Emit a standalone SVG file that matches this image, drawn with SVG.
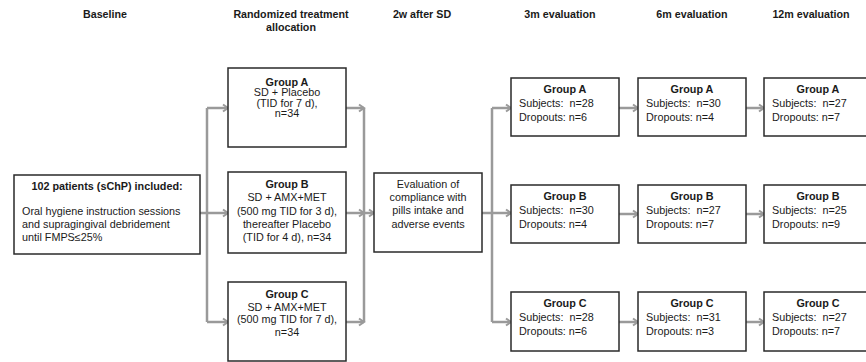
<svg xmlns="http://www.w3.org/2000/svg" width="866" height="362" viewBox="0 0 866 362">
<style>
text{font-family:"Liberation Sans",Arial,sans-serif;fill:#1a1a1a}
.h{font-size:10.7px;font-weight:bold;text-anchor:middle}
.t{font-size:10.8px}
.c{text-anchor:middle}
.b{font-weight:bold}
.box{fill:#fff;stroke:#2a2a2a;stroke-width:1.5}
.ln{fill:none;stroke:#9a9a9a;stroke-width:2.5}
.ar{fill:none;stroke:#9a9a9a;stroke-width:2.5;marker-end:url(#ah)}
</style>
<defs>
<marker id="ah" markerUnits="userSpaceOnUse" markerWidth="10" markerHeight="10" refX="8" refY="5" orient="auto">
<path d="M3,1.5 L8,5 L3,8.5" fill="none" stroke="#9a9a9a" stroke-width="2"/>
</marker>
</defs>
<rect width="866" height="362" fill="#fff"/>
<g id="headers">
<text class="h" x="105" y="18">Baseline</text>
<text class="h" x="291" y="18">Randomized treatment</text>
<text class="h" x="291" y="31">allocation</text>
<text class="h" x="422" y="18">2w after SD</text>
<text class="h" x="560" y="18">3m evaluation</text>
<text class="h" x="692" y="18">6m evaluation</text>
<text class="h" x="811" y="18">12m evaluation</text>
</g>
<g id="connectors">
<path class="ln" d="M207,108 V322"/>
<path class="ar" d="M200,213 H228"/>
<path class="ar" d="M207,108 H228"/>
<path class="ar" d="M207,322 H228"/>
<path class="ln" d="M364,108 V322"/>
<path class="ar" d="M346,108 H364"/>
<path class="ar" d="M346,213 H364"/>
<path class="ar" d="M346,322 H364"/>
<path class="ar" d="M364,213 H374"/>
<path class="ln" d="M492,108 V322"/>
<path class="ln" d="M482,213 H492"/>
<path class="ar" d="M492,108 H511"/>
<path class="ar" d="M492,213 H511"/>
<path class="ar" d="M492,322 H511"/>
<path class="ar" d="M619,108 H638"/>
<path class="ar" d="M619,214 H638"/>
<path class="ar" d="M619,322 H638"/>
<path class="ar" d="M746,108 H764"/>
<path class="ar" d="M746,214 H764"/>
<path class="ar" d="M746,322 H764"/>
</g>
<g id="baseline">
<rect class="box" x="14" y="175" width="186" height="79"/>
<text class="t b c" x="107" y="189.5">102 patients (sChP) included:</text>
<text class="t" x="22" y="215">Oral hygiene instruction sessions</text>
<text class="t" x="22" y="228">and supragingival debridement</text>
<text class="t" x="22" y="241">until FMPS≤25%</text>
</g>
<g id="trtA">
<rect class="box" x="228" y="68" width="118" height="79"/>
<text class="t c" x="287"><tspan class="b" x="287" y="85.5">Group A</tspan><tspan x="287" y="96">SD + Placebo</tspan><tspan x="287" y="106.5">(TID for 7 d),</tspan><tspan x="287" y="117">n=34</tspan></text>
</g>
<g id="trtB">
<rect class="box" x="228" y="172" width="118" height="81"/>
<text class="t c" x="287"><tspan class="b" x="287" y="188">Group B</tspan><tspan x="287" y="201">SD + AMX+MET</tspan><tspan x="287" y="214.5">(500 mg TID for 3 d),</tspan><tspan x="287" y="227.5">thereafter Placebo</tspan><tspan x="287" y="240.5">(TID for 4 d), n=34</tspan></text>
</g>
<g id="trtC">
<rect class="box" x="228" y="282" width="118" height="79"/>
<text class="t c" x="287"><tspan class="b" x="287" y="297.5">Group C</tspan><tspan x="287" y="310.5">SD + AMX+MET</tspan><tspan x="287" y="323.3">(500 mg TID for 7 d),</tspan><tspan x="287" y="336">n=34</tspan></text>
</g>
<g id="eval">
<rect class="box" x="374" y="173" width="108" height="79"/>
<text class="t c" x="428"><tspan x="428" y="188">Evaluation of</tspan><tspan x="428" y="201">compliance with</tspan><tspan x="428" y="214.3">pills intake and</tspan><tspan x="428" y="227.7">adverse events</tspan></text>
</g>
<g id="m3A">
<rect class="box" x="511" y="78" width="108" height="58"/>
<text class="t b c" x="565" y="93">Group A</text>
<text class="t" x="519" y="107" xml:space="preserve">Subjects:  n=28</text>
<text class="t" x="519" y="121">Dropouts: n=6</text>
</g>
<g id="m3B">
<rect class="box" x="511" y="185" width="108" height="58"/>
<text class="t b c" x="565" y="200">Group B</text>
<text class="t" x="519" y="214" xml:space="preserve">Subjects:  n=30</text>
<text class="t" x="519" y="228">Dropouts: n=4</text>
</g>
<g id="m3C">
<rect class="box" x="511" y="292" width="108" height="59"/>
<text class="t b c" x="565" y="307">Group C</text>
<text class="t" x="519" y="321" xml:space="preserve">Subjects:  n=28</text>
<text class="t" x="519" y="335">Dropouts: n=6</text>
</g>
<g id="m6A">
<rect class="box" x="638" y="78" width="108" height="58"/>
<text class="t b c" x="692" y="93">Group A</text>
<text class="t" x="646" y="107" xml:space="preserve">Subjects:  n=30</text>
<text class="t" x="646" y="121">Dropouts: n=4</text>
</g>
<g id="m6B">
<rect class="box" x="638" y="185" width="108" height="58"/>
<text class="t b c" x="692" y="200">Group B</text>
<text class="t" x="646" y="214" xml:space="preserve">Subjects:  n=27</text>
<text class="t" x="646" y="228">Dropouts: n=7</text>
</g>
<g id="m6C">
<rect class="box" x="638" y="292" width="108" height="59"/>
<text class="t b c" x="692" y="307">Group C</text>
<text class="t" x="646" y="321" xml:space="preserve">Subjects:  n=31</text>
<text class="t" x="646" y="335">Dropouts: n=3</text>
</g>
<g id="m12A">
<rect class="box" x="764" y="78" width="108" height="58"/>
<text class="t b c" x="818" y="93">Group A</text>
<text class="t" x="772" y="107" xml:space="preserve">Subjects:  n=27</text>
<text class="t" x="772" y="121">Dropouts: n=7</text>
</g>
<g id="m12B">
<rect class="box" x="764" y="185" width="108" height="58"/>
<text class="t b c" x="818" y="200">Group B</text>
<text class="t" x="772" y="214" xml:space="preserve">Subjects:  n=25</text>
<text class="t" x="772" y="228">Dropouts: n=9</text>
</g>
<g id="m12C">
<rect class="box" x="764" y="292" width="108" height="59"/>
<text class="t b c" x="818" y="307">Group C</text>
<text class="t" x="772" y="321" xml:space="preserve">Subjects:  n=27</text>
<text class="t" x="772" y="335">Dropouts: n=7</text>
</g>
</svg>
